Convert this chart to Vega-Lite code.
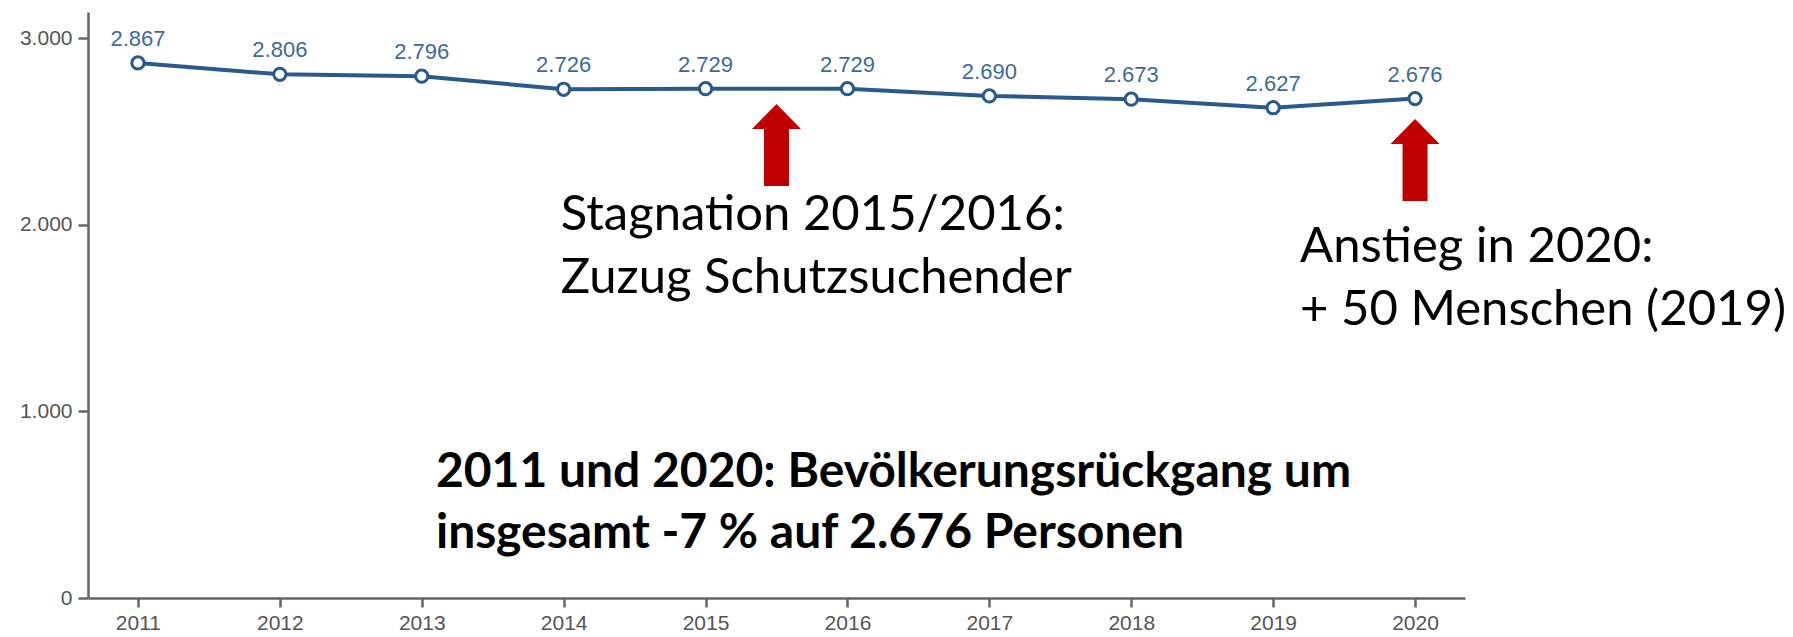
{
  "$schema": "https://vega.github.io/schema/vega-lite/v6.json",
  "width": 1377,
  "height": 586,
  "autosize": {"type": "none"},
  "padding": {"left": 88, "top": 12, "right": 328, "bottom": 39},
  "background": "white",
  "config": {
    "view": {"stroke": null},
    "locale": {"number": {"decimal": ",", "thousands": ".", "grouping": [3], "currency": ["", " €"]}}
  },
  "datasets": {
    "pop": [
      {"year": 2011, "value": 2867},
      {"year": 2012, "value": 2806},
      {"year": 2013, "value": 2796},
      {"year": 2014, "value": 2726},
      {"year": 2015, "value": 2729},
      {"year": 2016, "value": 2729},
      {"year": 2017, "value": 2690},
      {"year": 2018, "value": 2673},
      {"year": 2019, "value": 2627},
      {"year": 2020, "value": 2676}
    ],
    "arrows": [
      {"year": 2015.5, "tip": 2647},
      {"year": 2020, "tip": 2567}
    ],
    "notes": [
      {"year": 2013.98, "value": 1972, "text": ["Stagnation 2015/2016:", "Zuzug Schutzsuchender"]},
      {"year": 2019.19, "value": 1800, "text": ["Anstieg in 2020:", "+ 50 Menschen (2019)"]}
    ],
    "summary": [
      {"year": 2013.1, "value": 595, "text": ["2011 und 2020: Bevölkerungsrückgang um", "insgesamt -7 % auf 2.676 Personen"]}
    ]
  },
  "layer": [
    {
      "data": {"name": "pop"},
      "mark": {"type": "line", "color": "#2a5a8c", "strokeWidth": 4},
      "encoding": {
        "x": {
          "field": "year", "type": "quantitative",
          "scale": {"domain": [2010.648, 2020.352], "nice": false, "zero": false},
          "axis": {
            "title": null, "values": [2011, 2012, 2013, 2014, 2015, 2016, 2017, 2018, 2019, 2020],
            "format": "d", "grid": false,
            "domainColor": "#666666", "domainWidth": 2.5,
            "tickColor": "#666666", "tickWidth": 2.5, "tickSize": 9,
            "labelFont": "Liberation Sans", "labelFontSize": 21, "labelColor": "#555555",
            "labelPadding": 5
          }
        },
        "y": {
          "field": "value", "type": "quantitative",
          "scale": {"domain": [0, 3140], "nice": false},
          "axis": {
            "title": null, "values": [0, 1000, 2000, 3000],
            "format": ",d", "grid": false,
            "domainColor": "#666666", "domainWidth": 2.5,
            "tickColor": "#666666", "tickWidth": 2.5, "tickSize": 10,
            "labelFont": "Liberation Sans", "labelFontSize": 21, "labelColor": "#555555",
            "labelPadding": 6
          }
        }
      }
    },
    {
      "data": {"name": "pop"},
      "mark": {"type": "point", "shape": "circle", "filled": true, "fill": "white", "stroke": "#2a5a8c", "strokeWidth": 3, "size": 150, "opacity": 1},
      "encoding": {
        "x": {"field": "year", "type": "quantitative"},
        "y": {"field": "value", "type": "quantitative"}
      }
    },
    {
      "data": {"name": "pop"},
      "mark": {"type": "text", "font": "Liberation Sans", "fontSize": 22, "color": "#3d6a9c", "baseline": "middle", "align": "center", "dy": -24},
      "encoding": {
        "x": {"field": "year", "type": "quantitative"},
        "y": {"field": "value", "type": "quantitative"},
        "text": {"field": "value", "type": "quantitative", "format": ",d"}
      }
    },
    {
      "data": {"name": "arrows"},
      "mark": {
        "type": "point", "filled": true, "fill": "#c00000", "strokeWidth": 0, "opacity": 1, "size": 2401,
        "shape": "M0,0L1,1.02L0.51,1.02L0.51,3.35L-0.51,3.35L-0.51,1.02L-1,1.02Z"
      },
      "encoding": {
        "x": {"field": "year", "type": "quantitative"},
        "y": {"field": "tip", "type": "quantitative"}
      }
    },
    {
      "data": {"name": "notes"},
      "mark": {"type": "text", "font": "Lato", "fontSize": 49, "color": "black", "align": "left", "baseline": "alphabetic", "lineHeight": 63},
      "encoding": {
        "x": {"field": "year", "type": "quantitative"},
        "y": {"field": "value", "type": "quantitative"},
        "text": {"field": "text"}
      }
    },
    {
      "data": {"name": "summary"},
      "mark": {"type": "text", "font": "Lato", "fontSize": 48, "fontWeight": "bold", "color": "black", "align": "left", "baseline": "alphabetic", "lineHeight": 61},
      "encoding": {
        "x": {"field": "year", "type": "quantitative"},
        "y": {"field": "value", "type": "quantitative"},
        "text": {"field": "text"}
      }
    }
  ]
}
